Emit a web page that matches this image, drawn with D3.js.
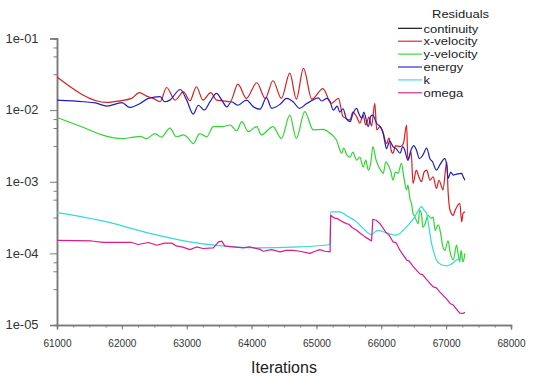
<!DOCTYPE html>
<html><head><meta charset="utf-8">
<script src="https://cdn.jsdelivr.net/npm/d3@7"></script>
<style>
html,body{margin:0;padding:0;background:#fff;}
svg{display:block;font-family:"Liberation Sans",Arial,sans-serif;}
</style></head>
<body><svg id="chart" width="534" height="378"></svg>
<script>
// ---- data: [iteration, residual] ----
const seriesNames = ["continuity","x-velocity","y-velocity","energy","k","omega"];
const seriesColors = ["#000000","#dd1c1c","#2ed62e","#1c1cc8","#33dada","#dc1a8c"];
const xTickLabels = ["61000","62000","63000","64000","65000","66000","67000","68000"];
const yTickLabels = ["1e-05","1e-04","1e-03","1e-02","1e-01"];

const continuity = [];
const xVelocity = [[61000,2.9e-2],[61770,1.28e-2],[61970,1.35e-2],[62150,1.46e-2],[62270,1.76e-2],[62380,1.57e-2],[62480,1.46e-2],[62590,1.31e-2],[62690,2.07e-2],[62820,1.38e-2],[62950,1.8e-2],[63050,1.35e-2],[63150,2.12e-2],[63250,1.38e-2],[63370,1.76e-2],[63460,1.38e-2],[63560,1.35e-2],[63670,1.31e-2],[63790,2.31e-2],[63920,1.46e-2],[64080,2.41e-2],[64210,1.46e-2],[64330,2.57e-2],[64460,1.46e-2],[64590,3.29e-2],[64690,1.42e-2],[64800,3.83e-2],[64930,1.42e-2],[65100,2.0e-2],[65230,1.24e-2],[65340,1.46e-2],[65410,8.1e-3],[65520,7.3e-3],[65560,9.4e-3],[65620,8.1e-3],[65670,6.6e-3],[65720,8.5e-3],[65760,6.2e-3],[65810,8.0e-3],[65850,6.0e-3],[65900,1.24e-2],[65930,5.3e-3],[65980,5.9e-3],[66030,4.8e-3],[66080,3.4e-3],[66120,4.1e-3],[66150,2.8e-3],[66180,2.5e-3],[66220,3.2e-3],[66290,3.1e-3],[66340,3.4e-3],[66390,6.2e-3],[66410,2.0e-3],[66460,2.6e-3],[66490,9.5e-4],[66540,1.45e-3],[66570,1.24e-3],[66620,1.0e-3],[66660,1.36e-3],[66700,1.45e-3],[66750,1.05e-3],[66800,1.17e-3],[66850,8.1e-4],[66890,1.05e-3],[66930,8.5e-4],[66950,7.7e-4],[67010,1.9e-3],[67030,7.3e-4],[67060,4.0e-4],[67110,3.4e-4],[67130,3.8e-4],[67180,4.7e-4],[67210,5.0e-4],[67240,2.75e-4],[67260,3.6e-4],[67290,3.8e-4]];
const yVelocity = [[61000,7.9e-3],[61350,6.0e-3],[61770,4.3e-3],[62000,4.0e-3],[62180,4.2e-3],[62280,4.3e-3],[62380,4.0e-3],[62510,4.7e-3],[62610,4.2e-3],[62740,5.6e-3],[62840,4.25e-3],[62950,4.5e-3],[63020,4.1e-3],[63100,3.4e-3],[63200,4.7e-3],[63310,4.25e-3],[63410,5.9e-3],[63560,5.9e-3],[63670,6.2e-3],[63770,5.15e-3],[63850,6.9e-3],[63950,5.0e-3],[64080,5.9e-3],[64150,4.5e-3],[64330,5.9e-3],[64460,4.0e-3],[64590,8.5e-3],[64690,4.0e-3],[64820,9.5e-3],[64950,5.3e-3],[65100,5.4e-3],[65230,4.6e-3],[65310,3.8e-3],[65390,2.5e-3],[65420,2.95e-3],[65470,2.35e-3],[65520,2.2e-3],[65560,2.6e-3],[65620,2.0e-3],[65670,2.2e-3],[65720,1.6e-3],[65760,2.0e-3],[65800,1.45e-3],[65840,1.9e-3],[65870,3.1e-3],[65920,2.0e-3],[65950,1.7e-3],[65990,1.45e-3],[66030,1.31e-3],[66070,1.9e-3],[66110,1.7e-3],[66150,1.36e-3],[66180,1.05e-3],[66220,1.36e-3],[66260,1.31e-3],[66310,1.8e-3],[66350,1.12e-3],[66390,7.7e-4],[66410,9.0e-4],[66440,5.9e-4],[66470,4.7e-4],[66490,3.6e-4],[66520,3.2e-4],[66570,2.6e-4],[66590,4.0e-4],[66620,3.6e-4],[66640,2.3e-4],[66670,2.5e-4],[66720,3.4e-4],[66770,3.1e-4],[66800,3.2e-4],[66830,2.1e-4],[66880,2.5e-4],[66920,1.8e-4],[66950,1.23e-4],[66980,1.1e-4],[67030,1.5e-4],[67060,1.05e-4],[67080,9.0e-5],[67110,8.1e-5],[67160,1.3e-4],[67180,1.04e-4],[67210,7.6e-5],[67230,1.1e-4],[67260,7.6e-5],[67290,1.0e-4]];
const energy = [[61000,1.38e-2],[61410,1.31e-2],[61590,1.26e-2],[61770,1.14e-2],[62000,1.27e-2],[62120,1.09e-2],[62280,1.24e-2],[62410,1.46e-2],[62590,1.54e-2],[62660,1.31e-2],[62740,1.38e-2],[62900,1.94e-2],[63000,1.38e-2],[63100,8.8e-3],[63180,1.17e-2],[63270,1.0e-2],[63360,1.31e-2],[63460,1.71e-2],[63540,1.38e-2],[63620,1.11e-2],[63690,1.31e-2],[63790,1.17e-2],[63920,1.38e-2],[64030,1.11e-2],[64130,1.03e-2],[64230,1.49e-2],[64310,1.06e-2],[64440,1.21e-2],[64540,1.46e-2],[64640,1.31e-2],[64740,1.06e-2],[64850,1.24e-2],[64900,1.31e-2],[65030,1.48e-2],[65080,1.34e-2],[65160,1.46e-2],[65210,1.31e-2],[65260,1.0e-2],[65320,1.14e-2],[65360,9.4e-3],[65410,1.04e-2],[65460,7.7e-3],[65520,6.9e-3],[65560,8.8e-3],[65620,1.06e-2],[65650,9.1e-3],[65700,7.7e-3],[65730,9.4e-3],[65800,5.9e-3],[65840,8.3e-3],[65870,8.5e-3],[65930,6.5e-3],[65980,5.9e-3],[66030,4.7e-3],[66050,3.8e-3],[66080,2.9e-3],[66130,3.7e-3],[66180,3.1e-3],[66230,2.9e-3],[66290,2.5e-3],[66330,3.1e-3],[66360,2.8e-3],[66410,2.0e-3],[66460,2.8e-3],[66500,3.2e-3],[66540,2.8e-3],[66590,2.1e-3],[66640,2.35e-3],[66700,2.95e-3],[66750,2.1e-3],[66790,1.9e-3],[66850,1.45e-3],[66900,1.7e-3],[66950,2.0e-3],[66980,2.1e-3],[67010,1.65e-3],[67030,1.11e-3],[67070,1.36e-3],[67110,1.24e-3],[67160,1.28e-3],[67240,1.31e-3],[67260,1.19e-3],[67290,1.05e-3]];
const kTurb = [[61000,3.7e-4],[61770,2.75e-4],[62430,1.9e-4],[63050,1.45e-4],[63460,1.29e-4],[64080,1.19e-4],[64740,1.23e-4],[65210,1.33e-4],[65220,3.8e-4],[65360,3.8e-4],[65480,3.3e-4],[65620,2.75e-4],[65730,2.2e-4],[65840,1.84e-4],[65950,2.1e-4],[66100,1.9e-4],[66230,1.8e-4],[66360,2.2e-4],[66490,3.0e-4],[66560,3.8e-4],[66620,4.5e-4],[66660,4.0e-4],[66700,3.6e-4],[66730,2.5e-4],[66770,1.45e-4],[66810,1.04e-4],[66850,8.1e-5],[66920,7.0e-5],[67010,6.7e-5],[67070,7.0e-5],[67160,8.1e-5],[67240,8.9e-5]];
const omega = [[61000,1.52e-4],[61530,1.49e-4],[61710,1.42e-4],[62150,1.42e-4],[62250,1.33e-4],[62410,1.42e-4],[62540,1.3e-4],[62660,1.39e-4],[62770,1.39e-4],[62840,1.27e-4],[62940,1.22e-4],[63050,1.13e-4],[63150,1.23e-4],[63250,1.17e-4],[63410,1.19e-4],[63490,1.45e-4],[63540,1.48e-4],[63590,1.26e-4],[63720,1.23e-4],[63870,1.19e-4],[63970,1.23e-4],[64130,1.14e-4],[64180,1.07e-4],[64310,1.13e-4],[64440,1.05e-4],[64530,1.1e-4],[64640,1.1e-4],[64740,1.07e-4],[64900,1.0e-4],[64980,1.07e-4],[65050,1.13e-4],[65130,1.07e-4],[65210,1.05e-4],[65220,3.4e-4],[65280,3.1e-4],[65330,3.05e-4],[65360,2.9e-4],[65460,2.6e-4],[65500,2.55e-4],[65550,2.3e-4],[65620,2.1e-4],[65680,1.9e-4],[65750,1.7e-4],[65850,1.49e-4],[65870,3.0e-4],[65920,2.9e-4],[65980,2.6e-4],[66070,1.97e-4],[66120,1.8e-4],[66180,1.45e-4],[66230,1.4e-4],[66290,1.1e-4],[66390,8.1e-5],[66430,7.8e-5],[66490,6.6e-5],[66590,5.2e-5],[66640,5.0e-5],[66690,4.4e-5],[66800,3.4e-5],[66850,3.3e-5],[66900,2.9e-5],[67010,2.3e-5],[67060,2.0e-5],[67110,1.9e-5],[67160,1.66e-5],[67210,1.46e-5],[67260,1.45e-5],[67290,1.5e-5]];

const allSeries = [continuity, xVelocity, yVelocity, energy, kTurb, omega];

(function draw() {
  const svg = d3.select("#chart");
  const mL = 57, mR = 511, mT = 38.5, mB = 325;
  const x = d3.scaleLinear().domain([61000, 68000]).range([mL, mR]);
  const y = d3.scaleLog().domain([1e-5, 1e-1]).range([mB, mT]);

  svg.append("defs").append("clipPath").attr("id","plotclip")
    .append("rect").attr("x",mL).attr("y",mT-2).attr("width",mR-mL).attr("height",mB-mT+2);

  const yMinor = [];
  for (let e = -5; e < -1; e++) [0.5, 0.75, 0.875].forEach(f => yMinor.push(Math.pow(10, e + f)));
  const yAxisMinor = d3.axisLeft(y).tickValues(yMinor).tickSize(3.5).tickFormat("");
  const yAxisMajor = d3.axisLeft(y).tickValues(yTickLabels.map(Number)).tickSize(7)
    .tickFormat((d,i)=>yTickLabels[i]).tickPadding(11);
  const gy1 = svg.append("g").attr("transform",`translate(${mL},0)`).call(yAxisMinor);
  const gy2 = svg.append("g").attr("transform",`translate(${mL},0)`).call(yAxisMajor);
  const xMinor = d3.range(61000, 68001, 250);
  const xAxisMinor = d3.axisBottom(x).tickValues(xMinor).tickSize(2.5).tickFormat("");
  const xAxisMajor = d3.axisBottom(x).tickValues(xTickLabels.map(Number)).tickSize(4.5)
    .tickFormat((d,i)=>xTickLabels[i]).tickPadding(10);
  const gx1 = svg.append("g").attr("transform",`translate(0,${mB})`).call(xAxisMinor);
  const gx2 = svg.append("g").attr("transform",`translate(0,${mB})`).call(xAxisMajor);

  [gy1,gy2,gx1,gx2].forEach(g => {
    g.selectAll(".domain").attr("stroke","#7a7a7a").attr("stroke-width",1.5);
    g.selectAll(".tick line").attr("stroke","#7a7a7a").attr("stroke-width",1);
  });
  gy2.selectAll(".tick text").attr("font-size","12px").attr("fill","#333")
    .attr("font-family","'Liberation Sans',Arial,sans-serif").attr("x",-18.5)
    .attr("textLength",33).attr("lengthAdjust","spacingAndGlyphs");
  gx2.selectAll(".tick text").attr("font-size","11px").attr("fill","#333")
    .attr("font-family","'Liberation Sans',Arial,sans-serif")
    .attr("textLength",28).attr("lengthAdjust","spacingAndGlyphs");

  svg.append("text").attr("x",(mL+mR)/2).attr("y",372.5).attr("text-anchor","middle")
    .attr("font-size","16px").attr("fill","#222").text("Iterations");

  const plot = svg.append("g").attr("clip-path","url(#plotclip)");
  allSeries.forEach((data, i) => {
    if (!data.length) return;
    const line = d3.line().x(d=>x(d[0])).y(d=>y(d[1]))
      .curve(i === 5 ? d3.curveLinear : d3.curveMonotoneX);
    plot.append("path").datum(data).attr("d", line)
      .attr("fill","none").attr("stroke",seriesColors[i]).attr("stroke-width",1.2)
      .attr("stroke-linejoin","round");
  });

  // legend (font kept small enough that rows do not collide; width stretched to match)
  const lg = svg.append("g");
  const fs = 11.2, wScale = 13 / 11.2;
  const title = lg.append("text").attr("x",432).attr("y",17.5)
    .attr("font-size",fs+"px").attr("fill","#222").text("Residuals");
  title.attr("textLength", title.node().getComputedTextLength() * wScale).attr("lengthAdjust","spacingAndGlyphs");
  seriesNames.forEach((name, i) => {
    const yy = 28.3 + i * 12.9;
    lg.append("line").attr("x1",398).attr("x2",422).attr("y1",yy).attr("y2",yy)
      .attr("stroke",seriesColors[i]).attr("stroke-width",1.1);
    const t = lg.append("text").attr("x",423.5).attr("y",yy+4.2).attr("font-size",fs+"px")
      .attr("fill","#222").text(name);
    t.attr("textLength", t.node().getComputedTextLength() * wScale).attr("lengthAdjust","spacingAndGlyphs");
  });
})();
</script></body></html>
